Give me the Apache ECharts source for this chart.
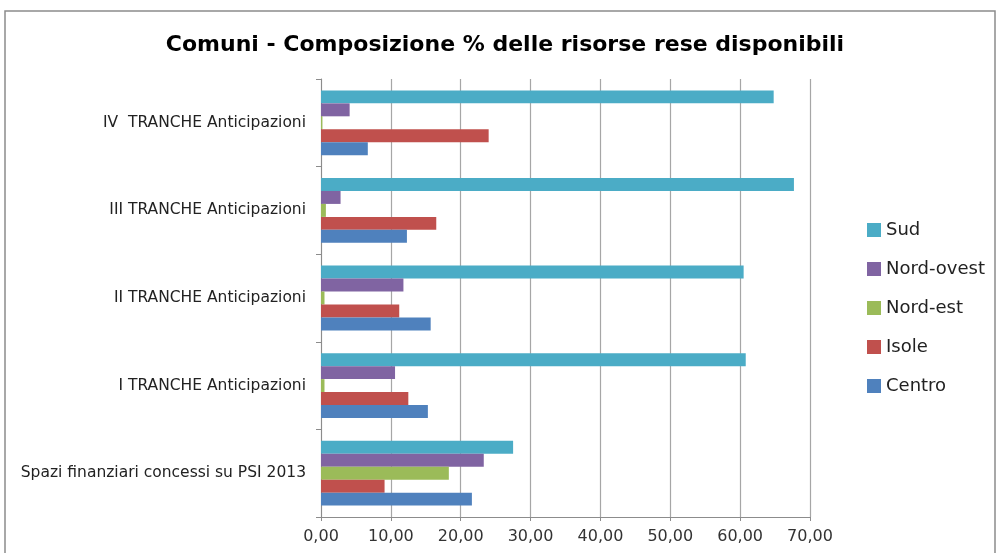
<!DOCTYPE html>
<html>
<head>
<meta charset="utf-8">
<script src="https://cdn.jsdelivr.net/npm/echarts@6/dist/echarts.min.js"></script>
<style>
  html, body { margin: 0; padding: 0; background: #fff; }
  #chart { width: 997px; height: 553px; }
</style>
</head>
<body>
<div id="chart"></div>
<script>
// categories, bottom to top
const categories = [
  "Spazi finanziari concessi su PSI 2013",
  "I TRANCHE Anticipazioni",
  "II TRANCHE Anticipazioni",
  "III TRANCHE Anticipazioni",
  "IV  TRANCHE Anticipazioni"
];
const centro = [21.6, 15.3, 15.7, 12.3, 6.7];
const isole = [9.1, 12.5, 11.2, 16.5, 24.0];
const nordEst = [18.3, 0.5, 0.5, 0.7, 0.2];
const nordOvest = [23.3, 10.6, 11.8, 2.8, 4.1];
const sud = [27.5, 60.8, 60.5, 67.7, 64.8];
const legendOrder = ["Sud", "Nord-ovest", "Nord-est", "Isole", "Centro"];

const myChart = echarts.init(document.getElementById("chart"));

function barSeries(name, data, color) {
  return {
    name: name,
    type: "bar",
    data: data,
    barGap: "0%",
    barCategoryGap: "26%",
    itemStyle: { color: color },
    animation: false
  };
}

const option = {
  textStyle: { fontFamily: "DejaVu Sans" },
  title: {
    text: "Comuni - Composizione % delle risorse rese disponibili",
    left: 500,
    top: 29,
    textAlign: "center",
    textStyle: { fontFamily: "DejaVu Sans", fontWeight: "bold", fontSize: 22, color: "#000" }
  },
  legend: {
    data: legendOrder,
    orient: "vertical",
    left: 867,
    top: 221,
    padding: 0,
    itemWidth: 14,
    itemHeight: 14,
    itemGap: 21,
    icon: "rect",
    textStyle: { fontSize: 18, color: "#222" }
  },
  grid: { left: 321, right: 187, top: 79, bottom: 36 },
  xAxis: {
    type: "value",
    min: 0,
    max: 70,
    interval: 10,
    axisLine: { show: true, lineStyle: { color: "#8c8c8c" } },
    axisTick: { show: true, length: 4, lineStyle: { color: "#8c8c8c" } },
    splitLine: { show: true, lineStyle: { color: "#a6a6a6", width: 1.2 } },
    axisLabel: {
      fontSize: 16,
      color: "#333",
      margin: 12,
      formatter: function (v) { return v.toFixed(2).replace(".", ","); }
    }
  },
  yAxis: {
    type: "category",
    data: categories,
    axisLine: { show: true, lineStyle: { color: "#8c8c8c" } },
    axisTick: { show: true, length: 5, lineStyle: { color: "#8c8c8c" } },
    axisLabel: { fontSize: 15.5, color: "#222", margin: 15 }
  },
  graphic: [
    {
      type: "rect",
      shape: { x: 5, y: 11, width: 990, height: 600 },
      style: { fill: null, stroke: "#8c8c8c", lineWidth: 1.5 },
      silent: true
    }
  ],
  // first series sits at the top of each group
  series: [
    barSeries("Sud", sud, "#4bacc6"),
    barSeries("Nord-ovest", nordOvest, "#8064a2"),
    barSeries("Nord-est", nordEst, "#9bbb59"),
    barSeries("Isole", isole, "#c0504d"),
    barSeries("Centro", centro, "#4f81bd")
  ]
};
myChart.setOption(option);
window.addEventListener("resize", function () {
  myChart.resize();
});
</script>
</body>
</html>
